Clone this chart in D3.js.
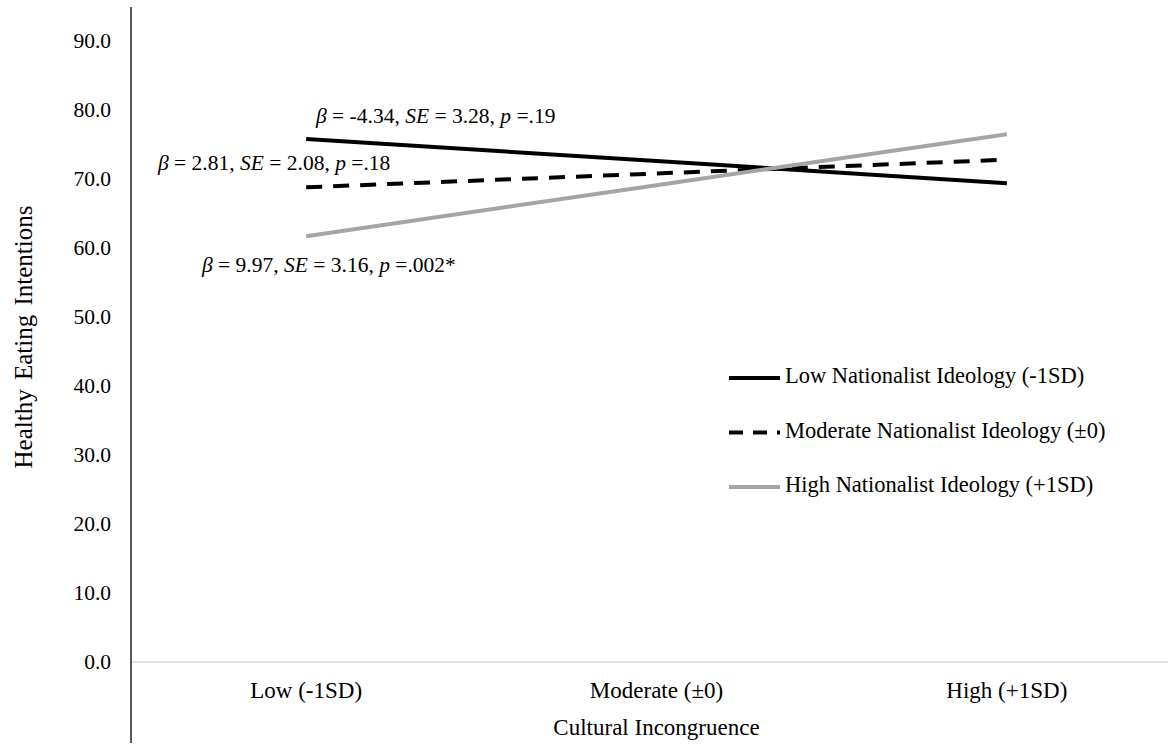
<!DOCTYPE html>
<html>
<head>
<meta charset="utf-8">
<script src="https://cdn.jsdelivr.net/npm/d3@7"></script>
<style>
  body { margin: 0; background: #fff; }
  svg { display: block; font-family: "Liberation Serif", "Times New Roman", serif; }
</style>
</head>
<body>
<svg id="chart" width="1168" height="746"></svg>
<script>
// categories along x
const categories = ["Low (-1SD)", "Moderate (±0)", "High (+1SD)"]
const yTicks = [0, 10, 20, 30, 40, 50, 60, 70, 80, 90]

// simple slopes, one line per moderator level
const seriesNames = [
    "Low Nationalist Ideology (-1SD)",
    "Moderate Nationalist Ideology (±0)",
    "High Nationalist Ideology (+1SD)",
]
const lowValues = [75.8, 72.6, 69.4]
const moderateValues = [68.8, 70.8, 72.8]
const highValues = [61.7, 69.1, 76.5]

const stats = [
    {beta: "-4.34", se: "3.28", p: "=.19"},
    {beta: "2.81", se: "2.08", p: "=.18"},
    {beta: "9.97", se: "3.16", p: "=.002*"},
]

const width = 1168
const height = 746
const fontSize = 21.5

const svg = d3.select("#chart")

const x = d3.scaleBand(categories, [131, 1182])
const y = d3.scaleLinear([0, 90], [662, 41])

const series = [
    {name: seriesNames[0], values: lowValues, color: "#000", dash: null},
    {name: seriesNames[1], values: moderateValues, color: "#000", dash: "16,11"},
    {name: seriesNames[2], values: highValues, color: "#a5a5a5", dash: null},
]

// x axis baseline (light gray) and category labels
svg.append("line")
    .attr("x1", 131).attr("x2", width)
    .attr("y1", y(0)).attr("y2", y(0))
    .attr("stroke", "#d9d9d9").attr("stroke-width", 1.5)

const xAxis = svg.append("g")
    .attr("transform", `translate(0, ${y(0)})`)
    .call(d3.axisBottom(x).tickSize(0).tickPadding(20))
xAxis.select(".domain").remove()
xAxis.selectAll("text")
    .attr("font-family", "Liberation Serif").attr("font-size", 23).attr("fill", "#000")

// y axis
const yAxis = svg.append("g")
    .attr("transform", "translate(131, 0)")
    .call(d3.axisLeft(y).tickValues(yTicks).tickFormat(d3.format(".1f")).tickSize(0).tickPadding(20))
yAxis.select(".domain").remove()
yAxis.selectAll("text")
    .attr("font-family", "Liberation Serif").attr("font-size", fontSize).attr("fill", "#000")

svg.append("line")
    .attr("x1", 131).attr("x2", 131)
    .attr("y1", 7).attr("y2", 743)
    .attr("stroke", "#000").attr("stroke-width", 1.3)

// axis titles
svg.append("text")
    .attr("transform", "translate(26, 337) rotate(-90)")
    .attr("text-anchor", "middle")
    .attr("dominant-baseline", "middle")
    .attr("font-size", 25)
    .attr("word-spacing", 3)
    .text("Healthy Eating Intentions")

svg.append("text")
    .attr("x", x(categories[1]) + x.bandwidth() / 2)
    .attr("y", 730)
    .attr("text-anchor", "middle")
    .attr("dominant-baseline", "middle")
    .attr("font-size", 23)
    .text("Cultural Incongruence")

// lines
const line = d3.line()
    .x((d, i) => x(categories[i]) + x.bandwidth() / 2)
    .y(d => y(d))

svg.append("g")
    .selectAll("path")
    .data(series)
    .join("path")
    .attr("d", d => line(d.values))
    .attr("fill", "none")
    .attr("stroke", d => d.color)
    .attr("stroke-width", 4)
    .attr("stroke-dasharray", d => d.dash)

// slope annotations
const notePos = [[316, 118], [158, 165], [202, 267]]
stats.forEach((s, i) => {
    const t = svg.append("text")
        .attr("x", notePos[i][0])
        .attr("y", notePos[i][1])
        .attr("dominant-baseline", "middle")
        .attr("font-size", fontSize)
    t.append("tspan").attr("font-style", "italic").text("β")
    t.append("tspan").text(` = ${s.beta}, `)
    t.append("tspan").attr("font-style", "italic").text("SE")
    t.append("tspan").text(` = ${s.se}, `)
    t.append("tspan").attr("font-style", "italic").text("p")
    t.append("tspan").text(` ${s.p}`)
})

// legend
const legend = svg.append("g")
    .attr("transform", "translate(729, 378)")
    .selectAll("g")
    .data(series)
    .join("g")
    .attr("transform", (d, i) => `translate(0, ${i * 54.5})`)

legend.append("line")
    .attr("x1", 0).attr("x2", 51)
    .attr("stroke", d => d.color)
    .attr("stroke-width", 4)
    .attr("stroke-dasharray", d => d.dash ? "14,10" : null)

legend.append("text")
    .attr("x", 56)
    .attr("dominant-baseline", "middle")
    .attr("font-size", 22.5)
    .text(d => d.name)
</script>
</body>
</html>
